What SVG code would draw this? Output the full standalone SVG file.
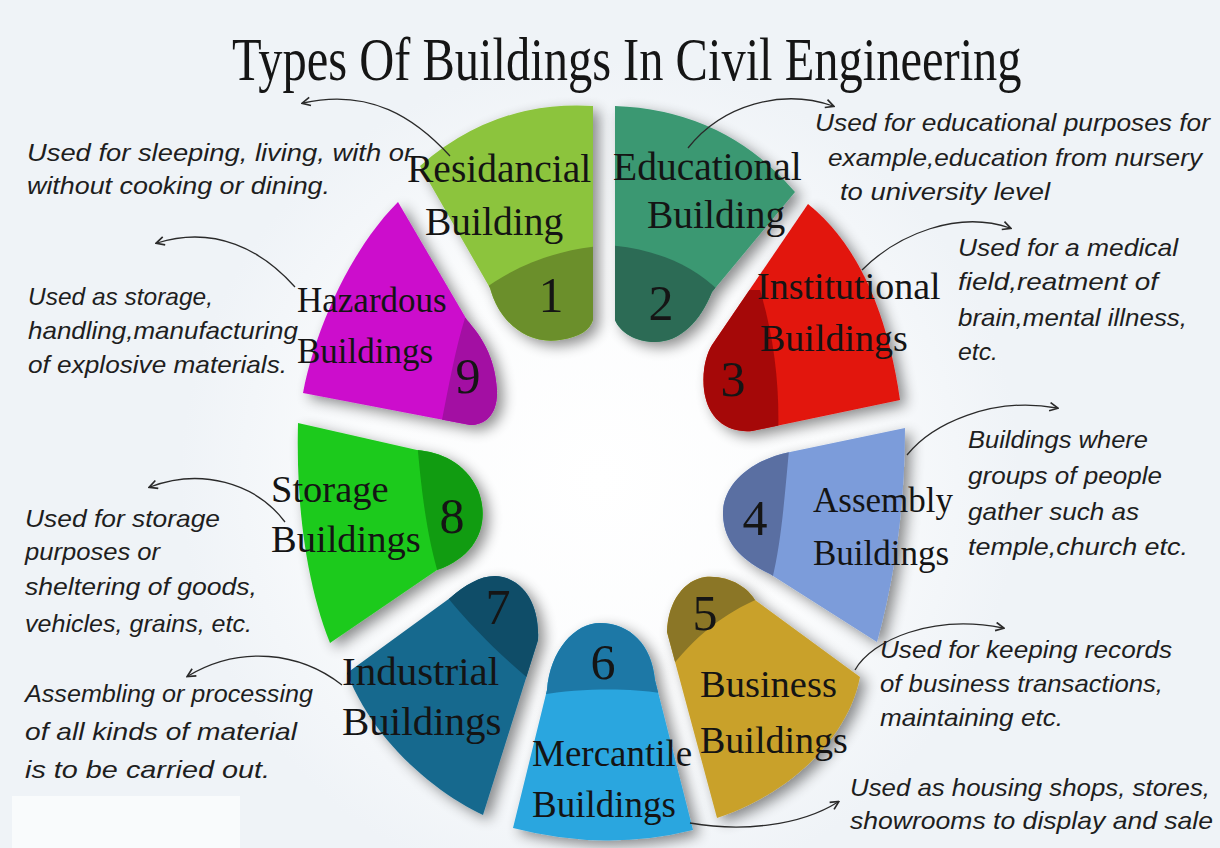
<svg xmlns="http://www.w3.org/2000/svg" xmlns:xlink="http://www.w3.org/1999/xlink" width="1220" height="848" viewBox="0 0 1220 848">
<defs>
<style>
.lbl{font-family:"Liberation Serif","Times New Roman",serif;fill:#141414}
.num{font-family:"Liberation Serif","Times New Roman",serif;fill:#151515;font-size:50px;text-anchor:middle}
.desc{font-family:"Liberation Sans",Arial,sans-serif;font-style:italic;font-size:24px;fill:#1e1e1e}
.con{fill:none;stroke:#2a2a2a;stroke-width:1.3}
</style>
<radialGradient id="bg" cx="600" cy="480" r="420" gradientUnits="userSpaceOnUse">
<stop offset="0" stop-color="#ffffff"/><stop offset="0.55" stop-color="#fbfcfd"/><stop offset="1" stop-color="#eff3f7"/>
</radialGradient>
<filter id="sh" x="-30%" y="-30%" width="160%" height="160%">
<feGaussianBlur in="SourceAlpha" stdDeviation="7"/>
<feOffset dx="6" dy="5" result="b"/>
<feComponentTransfer><feFuncA type="linear" slope="0.45"/></feComponentTransfer>
<feMerge><feMergeNode/><feMergeNode in="SourceGraphic"/></feMerge>
</filter>
<marker id="arr" viewBox="0 0 10 10" refX="8" refY="5" markerWidth="8" markerHeight="8" orient="auto">
<path d="M1,1 L9,5 L1,9" fill="none" stroke="#2a2a2a" stroke-width="1.6"/>
</marker>
<path id="p1" d="M593,106 Q495,100 420,166 L490,288 C500,325 530,345 560,340 C580,337 590,330 593,320 Z"/>
<path id="p2" d="M615,106 Q725,110 795,192 L712,292 C700,322 680,342 655,342 C635,342 620,332 615,320 Z"/>
<path id="p3" d="M808,204 Q880,262 900,400 L752,431 C728,433 708,420 704,390 C702,370 706,355 712,345 Z"/>
<path id="p4" d="M905,428 Q905,540 877,642 L770,574 C745,562 724,545 723,515 C722,485 750,460 790,452 Z"/>
<path id="p5" d="M667,632 C668,600 685,580 705,577 C730,575 748,588 755,600 L860,677 C850,730 800,790 717,818 Z"/>
<path id="p6" d="M513,828 L547,690 C550,650 575,623 600,623 C630,623 652,645 655,680 L693,830 Q605,852 513,828 Z"/>
<path id="p7" d="M347,673 L450,598 C465,585 480,576 495,576 C520,577 540,600 538,640 L483,815 C440,795 375,745 347,673 Z"/>
<path id="p8" d="M298,423 L417,450 C440,452 465,462 478,490 C490,520 480,555 437,570 L330,643 C305,580 296,500 298,423 Z"/>
<path id="p9" d="M398,202 L467,320 C480,335 495,355 497,390 C498,415 485,425 470,425 L303,393 C315,330 350,250 398,202 Z"/>
<clipPath id="k1"><use xlink:href="#p1"/></clipPath>
<clipPath id="k2"><use xlink:href="#p2"/></clipPath>
<clipPath id="k3"><use xlink:href="#p3"/></clipPath>
<clipPath id="k4"><use xlink:href="#p4"/></clipPath>
<clipPath id="k5"><use xlink:href="#p5"/></clipPath>
<clipPath id="k6"><use xlink:href="#p6"/></clipPath>
<clipPath id="k7"><use xlink:href="#p7"/></clipPath>
<clipPath id="k8"><use xlink:href="#p8"/></clipPath>
<clipPath id="k9"><use xlink:href="#p9"/></clipPath>
</defs>

<rect width="1220" height="848" fill="url(#bg)"/>
<rect x="12" y="796" width="228" height="52" fill="#f9fbfc"/>

<text transform="translate(232,80) scale(0.782,1)" x="0" y="0" font-family="Liberation Serif,Times New Roman,serif" font-size="62" fill="#151515">Types Of Buildings In Civil Engineering</text>

<g id="seg1">
<use xlink:href="#p1" fill="#8cc43c" filter="url(#sh)"/>
<path d="M480,292 C520,262 560,250 600,246 L600,360 L480,360 Z" fill="#6b8f2b" clip-path="url(#k1)"/>
<text class="num" x="551" y="312">1</text>
<text class="lbl" x="407" y="182" font-size="39.5">Residancial</text>
<text class="lbl" x="425" y="235" font-size="39.5">Building</text>
</g>

<g id="seg2">
<use xlink:href="#p2" fill="#3b9872" filter="url(#sh)"/>
<path d="M605,245 C650,248 690,262 720,292 L720,360 L605,360 Z" fill="#2c6b55" clip-path="url(#k2)"/>
<text class="num" x="661" y="320">2</text>
<text class="lbl" x="613" y="180" font-size="39.5">Educational</text>
<text class="lbl" x="647" y="228" font-size="39.5">Building</text>
</g>

<g id="seg3">
<use xlink:href="#p3" fill="#e2120c" filter="url(#sh)"/>
<path d="M760,290 C775,340 780,390 778,440 L690,440 L690,290 Z" fill="#a50808" clip-path="url(#k3)"/>
<text class="num" x="733" y="396">3</text>
<text class="lbl" x="757" y="299" font-size="38">Institutional</text>
<text class="lbl" x="760" y="351" font-size="38">Buildings</text>
</g>

<g id="seg4">
<use xlink:href="#p4" fill="#7b9cda" filter="url(#sh)"/>
<path d="M790,440 C785,490 782,540 772,580 L700,580 L700,440 Z" fill="#5a6fa2" clip-path="url(#k4)"/>
<text class="num" x="755" y="535">4</text>
<text class="lbl" x="813" y="512" font-size="35">Assembly</text>
<text class="lbl" x="813" y="565" font-size="35">Buildings</text>
</g>

<g id="seg5">
<use xlink:href="#p5" fill="#c9a12b" filter="url(#sh)"/>
<path d="M660,682 C690,640 720,615 760,598 L760,560 L660,560 Z" fill="#8b7626" clip-path="url(#k5)"/>
<text class="num" x="705" y="630">5</text>
<text class="lbl" x="700" y="697" font-size="38.5">Business</text>
<text class="lbl" x="700" y="753" font-size="38">Buildings</text>
</g>

<g id="seg6">
<use xlink:href="#p6" fill="#2aa6df" filter="url(#sh)"/>
<path d="M540,695 C580,688 630,688 660,693 L660,600 L540,600 Z" fill="#1d78a6" clip-path="url(#k6)"/>
<text class="num" x="603" y="679">6</text>
<text class="lbl" x="532" y="766" font-size="37">Mercantile</text>
<text class="lbl" x="532" y="817" font-size="37">Buildings</text>
</g>

<g id="seg7">
<use xlink:href="#p7" fill="#19698e" filter="url(#sh)"/>
<path d="M448,598 C470,625 500,655 530,680 L560,680 L560,560 L448,560 Z" fill="#0f4d68" clip-path="url(#k7)"/>
<text class="num" x="498" y="624">7</text>
<text class="lbl" x="342" y="685" font-size="41">Industrial</text>
<text class="lbl" x="342" y="735" font-size="41">Buildings</text>
</g>

<g id="seg8">
<use xlink:href="#p8" fill="#1fca1f" filter="url(#sh)"/>
<path d="M417,440 C422,500 428,540 440,580 L500,580 L500,440 Z" fill="#119c11" clip-path="url(#k8)"/>
<text class="num" x="452" y="533">8</text>
<text class="lbl" x="271" y="502" font-size="38.5">Storage</text>
<text class="lbl" x="271" y="552" font-size="38.5">Buildings</text>
</g>

<g id="seg9">
<use xlink:href="#p9" fill="#cc0ecc" filter="url(#sh)"/>
<path d="M465,318 C455,350 448,390 440,430 L510,430 L510,318 Z" fill="#a30fa3" clip-path="url(#k9)"/>
<text class="num" x="468" y="393">9</text>
<text class="lbl" x="297" y="312" font-size="35">Hazardous</text>
<text class="lbl" x="297" y="363" font-size="35">Buildings</text>
</g>

<g id="connectors">
<path class="con" d="M450,156 C415,118 370,88 303,103" marker-end="url(#arr)"/>
<path class="con" d="M295,287 C262,250 215,225 157,243" marker-end="url(#arr)"/>
<path class="con" d="M285,522 C255,482 200,468 150,487" marker-end="url(#arr)"/>
<path class="con" d="M342,685 C300,652 240,645 188,676" marker-end="url(#arr)"/>
<path class="con" d="M688,148 C722,105 782,88 833,106" marker-end="url(#arr)"/>
<path class="con" d="M862,270 C898,234 958,210 1010,228" marker-end="url(#arr)"/>
<path class="con" d="M907,455 C932,424 992,396 1057,408" marker-end="url(#arr)"/>
<path class="con" d="M855,670 C872,640 932,614 1003,628" marker-end="url(#arr)"/>
<path class="con" d="M690,823 C742,832 800,826 838,802" marker-end="url(#arr)"/>
</g>

<g id="desc1">
<text class="desc" x="27" y="161" textLength="386" lengthAdjust="spacingAndGlyphs">Used for sleeping, living, with or</text>
<text class="desc" x="27" y="194" textLength="303" lengthAdjust="spacingAndGlyphs">without cooking or dining.</text>
</g>
<g id="desc9">
<text class="desc" x="28" y="305" textLength="185" lengthAdjust="spacingAndGlyphs">Used as storage,</text>
<text class="desc" x="28" y="339" textLength="270" lengthAdjust="spacingAndGlyphs">handling,manufacturing</text>
<text class="desc" x="28" y="373" textLength="259" lengthAdjust="spacingAndGlyphs">of explosive materials.</text>
</g>
<g id="desc8">
<text class="desc" x="25" y="527" textLength="195" lengthAdjust="spacingAndGlyphs">Used for storage</text>
<text class="desc" x="25" y="560" textLength="135" lengthAdjust="spacingAndGlyphs">purposes or</text>
<text class="desc" x="25" y="595" textLength="232" lengthAdjust="spacingAndGlyphs">sheltering of goods,</text>
<text class="desc" x="25" y="632" textLength="227" lengthAdjust="spacingAndGlyphs">vehicles, grains, etc.</text>
</g>
<g id="desc7">
<text class="desc" x="25" y="702" textLength="288" lengthAdjust="spacingAndGlyphs">Assembling or processing</text>
<text class="desc" x="25" y="740" textLength="272" lengthAdjust="spacingAndGlyphs">of all kinds of material</text>
<text class="desc" x="25" y="778" textLength="245" lengthAdjust="spacingAndGlyphs">is to be carried out.</text>
</g>
<g id="desc2">
<text class="desc" x="815" y="131" textLength="395" lengthAdjust="spacingAndGlyphs">Used for educational purposes for</text>
<text class="desc" x="828" y="166" textLength="374" lengthAdjust="spacingAndGlyphs">example,education from nursery</text>
<text class="desc" x="840" y="200" textLength="210" lengthAdjust="spacingAndGlyphs">to university level</text>
</g>
<g id="desc3">
<text class="desc" x="958" y="256" textLength="220" lengthAdjust="spacingAndGlyphs">Used for a medical</text>
<text class="desc" x="958" y="290" textLength="200" lengthAdjust="spacingAndGlyphs">field,reatment of</text>
<text class="desc" x="958" y="326" textLength="229" lengthAdjust="spacingAndGlyphs">brain,mental illness,</text>
<text class="desc" x="958" y="360" textLength="40" lengthAdjust="spacingAndGlyphs">etc.</text>
</g>
<g id="desc4">
<text class="desc" x="968" y="448" textLength="180" lengthAdjust="spacingAndGlyphs">Buildings where</text>
<text class="desc" x="968" y="484" textLength="194" lengthAdjust="spacingAndGlyphs">groups of people</text>
<text class="desc" x="968" y="520" textLength="171" lengthAdjust="spacingAndGlyphs">gather such as</text>
<text class="desc" x="968" y="555" textLength="220" lengthAdjust="spacingAndGlyphs">temple,church etc.</text>
</g>
<g id="desc5">
<text class="desc" x="880" y="658" textLength="292" lengthAdjust="spacingAndGlyphs">Used for keeping records</text>
<text class="desc" x="880" y="692" textLength="283" lengthAdjust="spacingAndGlyphs">of business transactions,</text>
<text class="desc" x="880" y="726" textLength="183" lengthAdjust="spacingAndGlyphs">maintaining etc.</text>
</g>
<g id="desc6">
<text class="desc" x="850" y="796" textLength="360" lengthAdjust="spacingAndGlyphs">Used as housing shops, stores,</text>
<text class="desc" x="850" y="829" textLength="363" lengthAdjust="spacingAndGlyphs">showrooms to display and sale</text>
</g>
</svg>
